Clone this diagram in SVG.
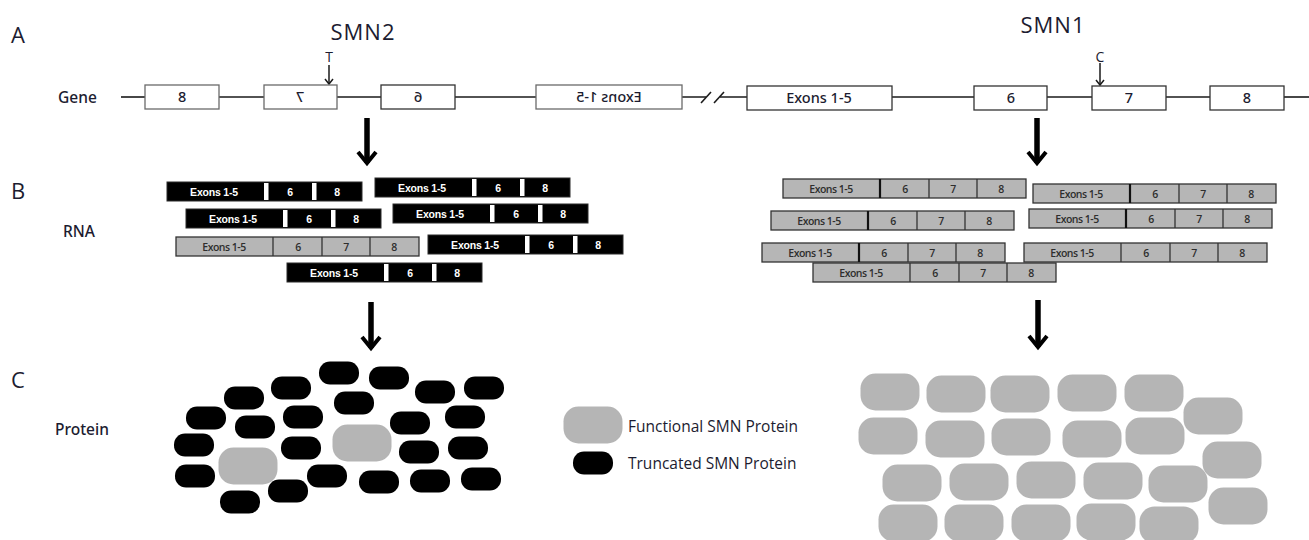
<svg xmlns="http://www.w3.org/2000/svg" xmlns:xlink="http://www.w3.org/1999/xlink" width="1309" height="540" viewBox="0 0 1309 540">
  <style>
    text { font-family: "Open Sans", "Noto Sans", "Liberation Sans", sans-serif; fill: #1c1c30; }
    .panel { font-size: 22px; }
    .title { font-size: 22px; letter-spacing: 1px; }
    .row { font-family: "Noto Sans", "Open Sans", sans-serif; font-size: 15.5px; font-weight: 500; }
    .exon { fill: #ffffff; stroke: #333333; stroke-width: 1.3; }
    .exon-l { fill: #ffffff; stroke: #6a6a6a; stroke-width: 1.3; }
    .ex-t { font-family: "Noto Sans", "Open Sans", sans-serif; font-size: 14.5px; text-anchor: middle; font-weight: 500; }
    .snp { font-size: 14px; text-anchor: middle; }
    .wire { stroke: #1a1a1a; stroke-width: 1.6; fill: none; }
    .bar-k { fill: #000000; stroke: #2a2a2a; stroke-width: 1; }
    .sep { fill: #ffffff; }
    .bt-k { font-family: "Liberation Sans", "Open Sans", sans-serif; font-size: 10.5px; font-weight: bold; fill: #ffffff; text-anchor: middle; letter-spacing: -0.2px; }
    .bar-g { fill: #b6b6b6; stroke: #333333; stroke-width: 1.3; }
    .div { stroke: #333333; stroke-width: 1.3; }
    .div-b { stroke: #111111; stroke-width: 2.2; }
    .bt-g { font-family: "Open Sans", "Liberation Sans", sans-serif; font-size: 10.5px; font-weight: 600; fill: #2e2e2e; text-anchor: middle; letter-spacing: -0.5px; }
    .p-t { fill: #000000; }
    .p-f { fill: #b5b5b5; }
    .big-shaft { stroke: #000000; stroke-width: 5.5; fill: none; }
    .big-head { stroke: #000000; stroke-width: 4; fill: none; stroke-linejoin: miter; }
    .small-arrow { stroke: #1a1a1a; stroke-width: 1.5; fill: none; }
    .legend { font-size: 15.5px; }
  </style>

  <defs>
    <!-- truncated RNA: exons 1-5 | 6 | 8, white splice gaps -->
    <g id="rna-trunc">
      <rect class="bar-k" x="0" y="0" width="195" height="19"/>
      <rect class="sep" x="97" y="1" width="4.5" height="17"/>
      <rect class="sep" x="145" y="1" width="4.5" height="17"/>
      <text class="bt-k" x="47" y="13.5">Exons 1-5</text>
      <text class="bt-k" x="123" y="13.5">6</text>
      <text class="bt-k" x="170" y="13.5">8</text>
    </g>
    <!-- full-length RNA: exons 1-5 | 6 | 7 | 8 -->
    <g id="rna-full">
      <rect class="bar-g" x="0" y="0" width="243" height="19"/>
      <line class="div" x1="97" y1="0" x2="97" y2="19"/>
      <line class="div" x1="146" y1="0" x2="146" y2="19"/>
      <line class="div" x1="194" y1="0" x2="194" y2="19"/>
      <text class="bt-g" x="48" y="13.5">Exons 1-5</text>
      <text class="bt-g" x="122" y="13.5">6</text>
      <text class="bt-g" x="170" y="13.5">7</text>
      <text class="bt-g" x="218" y="13.5">8</text>
    </g>
    <g id="rna-full-b">
      <use xlink:href="#rna-full"/>
      <line class="div-b" x1="97" y1="0" x2="97" y2="19"/>
    </g>
    <rect id="prot-t" x="-20" y="-11.5" width="40" height="23" rx="11" ry="11"/>
    <rect id="prot-f" x="-29.5" y="-18.5" width="59" height="37" rx="15" ry="15"/>
  </defs>

  <!-- panel letters and row labels -->
  <g id="labels">
    <text class="panel" x="11" y="43">A</text>
    <text class="panel" x="11" y="199">B</text>
    <text class="panel" x="11" y="388">C</text>
    <text class="row" x="58" y="103">Gene</text>
    <text class="row" x="63" y="237">RNA</text>
    <text class="row" x="55" y="435">Protein</text>
    <text class="title" x="363" y="40" text-anchor="middle">SMN2</text>
    <text class="title" x="1053" y="33" text-anchor="middle">SMN1</text>
  </g>

  <!-- gene backbone, SNP pointers and flow arrows -->
  <g id="connectors">
    <line class="wire" x1="121" y1="97" x2="145" y2="97"/>
    <line class="wire" x1="219" y1="97" x2="264" y2="97"/>
    <line class="wire" x1="337" y1="97" x2="381" y2="97"/>
    <line class="wire" x1="455" y1="97" x2="536" y2="97"/>
    <line class="wire" x1="682" y1="97" x2="747" y2="97"/>
    <line stroke="#ffffff" stroke-width="5" x1="706" y1="97" x2="720" y2="97"/>
    <line class="wire" x1="701" y1="103" x2="711" y2="92"/>
    <line class="wire" x1="714" y1="103" x2="724" y2="92"/>
    <line class="wire" x1="892" y1="97" x2="974" y2="97"/>
    <line class="wire" x1="1047" y1="97" x2="1092" y2="97"/>
    <line class="wire" x1="1166" y1="97" x2="1210" y2="97"/>
    <line class="wire" x1="1284" y1="97" x2="1309" y2="97"/>

    <!-- SNP pointers -->
    <line class="small-arrow" x1="329" y1="65" x2="329" y2="84"/>
    <polyline class="small-arrow" points="325,79 329,84 333,79"/>
    <line class="small-arrow" x1="1100" y1="63" x2="1100" y2="85"/>
    <polyline class="small-arrow" points="1096,80 1100,85 1104,80"/>

    <!-- gene to RNA -->
    <line class="big-shaft" x1="367" y1="118" x2="367" y2="163"/>
    <polyline class="big-head" points="358,152 367,163 376,152"/>
    <line class="big-shaft" x1="1037" y1="118" x2="1037" y2="163"/>
    <polyline class="big-head" points="1028,152 1037,163 1046,152"/>
    <!-- RNA to protein -->
    <line class="big-shaft" x1="371" y1="302" x2="371" y2="348"/>
    <polyline class="big-head" points="362,337 371,348 380,337"/>
    <line class="big-shaft" x1="1038" y1="300" x2="1038" y2="347"/>
    <polyline class="big-head" points="1029,336 1038,347 1047,336"/>
  </g>

  <!-- SMN2 gene, drawn in reverse orientation -->
  <g id="smn2-ex8">
    <rect class="exon-l" x="145" y="85" width="74" height="24"/>
    <text class="ex-t" transform="scale(-1,1)" x="-182" y="102">8</text>
  </g>
  <g id="smn2-ex7">
    <rect class="exon-l" x="264" y="85" width="73" height="24"/>
    <text class="ex-t" transform="scale(-1,1)" x="-300" y="102">7</text>
  </g>
  <g id="smn2-ex6">
    <rect class="exon" x="381" y="85" width="74" height="24"/>
    <text class="ex-t" transform="scale(-1,1)" x="-418" y="102">6</text>
  </g>
  <g id="smn2-ex1-5">
    <rect class="exon-l" x="536" y="85" width="146" height="24"/>
    <text class="ex-t" transform="scale(-1,1)" x="-609" y="102">Exons 1-5</text>
  </g>

  <!-- SMN1 gene -->
  <g id="smn1-ex1-5">
    <rect class="exon" x="747" y="86" width="145" height="24"/>
    <text class="ex-t" x="819" y="103">Exons 1-5</text>
  </g>
  <g id="smn1-ex6">
    <rect class="exon" x="974" y="86" width="73" height="24"/>
    <text class="ex-t" x="1011" y="103">6</text>
  </g>
  <g id="smn1-ex7">
    <rect class="exon" x="1092" y="86" width="74" height="24"/>
    <text class="ex-t" x="1129" y="103">7</text>
  </g>
  <g id="smn1-ex8">
    <rect class="exon" x="1210" y="86" width="74" height="24"/>
    <text class="ex-t" x="1247" y="103">8</text>
  </g>
  <g id="snp-labels">
    <text class="snp" x="329" y="62">T</text>
    <text class="snp" x="1100" y="62">C</text>
  </g>

  <!-- SMN2 transcripts: mostly exon-7 skipped -->
  <g id="smn2-rna">
    <use xlink:href="#rna-trunc" x="167" y="182"/>
    <use xlink:href="#rna-trunc" x="375" y="178"/>
    <use xlink:href="#rna-trunc" x="186" y="209"/>
    <use xlink:href="#rna-trunc" x="393" y="204"/>
    <use xlink:href="#rna-full" x="176" y="237"/>
    <use xlink:href="#rna-trunc" x="428" y="235"/>
    <use xlink:href="#rna-trunc" x="287" y="263"/>
  </g>

  <!-- SMN1 transcripts: full length -->
  <g id="smn1-rna">
    <use xlink:href="#rna-full-b" x="783" y="179"/>
    <use xlink:href="#rna-full-b" x="1033" y="184"/>
    <use xlink:href="#rna-full-b" x="771" y="211"/>
    <use xlink:href="#rna-full-b" x="1029" y="209"/>
    <use xlink:href="#rna-full-b" x="762" y="243"/>
    <use xlink:href="#rna-full" x="1024" y="243"/>
    <use xlink:href="#rna-full" x="813" y="263"/>
  </g>

  <!-- SMN2 protein pool -->
  <g id="smn2-protein">
    <g class="p-t">
      <use xlink:href="#prot-t" x="339" y="373"/>
      <use xlink:href="#prot-t" x="389" y="378"/>
      <use xlink:href="#prot-t" x="291" y="388"/>
      <use xlink:href="#prot-t" x="435" y="392"/>
      <use xlink:href="#prot-t" x="484" y="388"/>
      <use xlink:href="#prot-t" x="244" y="398"/>
      <use xlink:href="#prot-t" x="354" y="403"/>
      <use xlink:href="#prot-t" x="206" y="418"/>
      <use xlink:href="#prot-t" x="303" y="417"/>
      <use xlink:href="#prot-t" x="255" y="427"/>
      <use xlink:href="#prot-t" x="410" y="423"/>
      <use xlink:href="#prot-t" x="465" y="417"/>
      <use xlink:href="#prot-t" x="194" y="445"/>
      <use xlink:href="#prot-t" x="301" y="448"/>
      <use xlink:href="#prot-t" x="419" y="452"/>
      <use xlink:href="#prot-t" x="468" y="448"/>
      <use xlink:href="#prot-t" x="195" y="476"/>
      <use xlink:href="#prot-t" x="327" y="476"/>
      <use xlink:href="#prot-t" x="379" y="482"/>
      <use xlink:href="#prot-t" x="430" y="481"/>
      <use xlink:href="#prot-t" x="481" y="479"/>
      <use xlink:href="#prot-t" x="288" y="491"/>
      <use xlink:href="#prot-t" x="240" y="502"/>
    </g>
    <g class="p-f">
      <use xlink:href="#prot-f" x="248" y="466"/>
      <use xlink:href="#prot-f" x="362" y="443"/>
    </g>
  </g>

  <!-- legend -->
  <g id="legend">
    <use class="p-f" xlink:href="#prot-f" x="593" y="425"/>
    <use class="p-t" xlink:href="#prot-t" x="593" y="463"/>
    <text class="legend" x="628" y="432">Functional SMN Protein</text>
    <text class="legend" x="628" y="469">Truncated SMN Protein</text>
  </g>

  <!-- SMN1 protein pool -->
  <g id="smn1-protein" class="p-f">
    <use xlink:href="#prot-f" x="890" y="392"/>
    <use xlink:href="#prot-f" x="956" y="394"/>
    <use xlink:href="#prot-f" x="1020" y="394"/>
    <use xlink:href="#prot-f" x="1087" y="393"/>
    <use xlink:href="#prot-f" x="1154" y="393"/>
    <use xlink:href="#prot-f" x="1213" y="416"/>
    <use xlink:href="#prot-f" x="888" y="436"/>
    <use xlink:href="#prot-f" x="955" y="439"/>
    <use xlink:href="#prot-f" x="1021" y="437"/>
    <use xlink:href="#prot-f" x="1092" y="439"/>
    <use xlink:href="#prot-f" x="1155" y="436"/>
    <use xlink:href="#prot-f" x="1232" y="460"/>
    <use xlink:href="#prot-f" x="912" y="483"/>
    <use xlink:href="#prot-f" x="979" y="482"/>
    <use xlink:href="#prot-f" x="1046" y="480"/>
    <use xlink:href="#prot-f" x="1113" y="481"/>
    <use xlink:href="#prot-f" x="1178" y="484"/>
    <use xlink:href="#prot-f" x="1238" y="506"/>
    <use xlink:href="#prot-f" x="908" y="523"/>
    <use xlink:href="#prot-f" x="974" y="523"/>
    <use xlink:href="#prot-f" x="1041" y="523"/>
    <use xlink:href="#prot-f" x="1106" y="522"/>
    <use xlink:href="#prot-f" x="1169" y="525"/>
  </g>
</svg>
